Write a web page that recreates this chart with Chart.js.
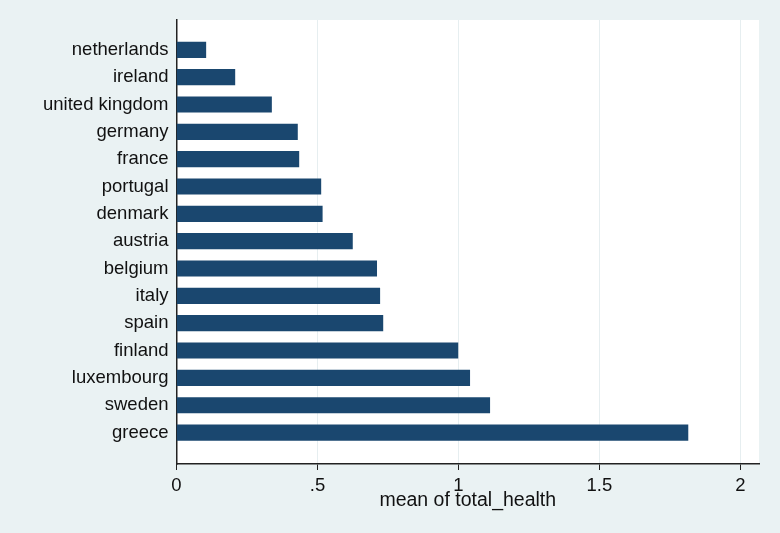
<!DOCTYPE html>
<html>
<head>
<meta charset="utf-8">
<script src="https://cdn.jsdelivr.net/npm/chart.js@4.4.1/dist/chart.umd.min.js"></script>
<style>
  html, body { margin: 0; padding: 0; background: #eaf2f3; }
  #wrap { width: 780px; height: 533px; }
</style>
</head>
<body>
<div id="wrap"><canvas id="c" width="780" height="533"></canvas></div>
<script>
const countries = ["netherlands", "ireland", "united kingdom", "germany", "france", "portugal", "denmark", "austria", "belgium", "italy", "spain", "finland", "luxembourg", "sweden", "greece"];
const meanTotalHealth = [0.104, 0.207, 0.337, 0.429, 0.434, 0.512, 0.517, 0.624, 0.710, 0.721, 0.732, 0.998, 1.040, 1.111, 1.814];
const xTickValues = [0, 0.5, 1, 1.5, 2];
const xTickLabels = ["0", ".5", "1", "1.5", "2"];
const xAxisTitle = "mean of total_health";

const FONT = "'Liberation Sans', Arial, sans-serif";

const bgPlugin = {
  id: 'bg',
  beforeDraw(chart) {
    const {ctx, chartArea: a} = chart;
    ctx.save();
    ctx.fillStyle = '#eaf2f3';
    ctx.fillRect(0, 0, chart.width, chart.height);
    ctx.fillStyle = '#ffffff';
    ctx.fillRect(a.left, a.top, a.right - a.left, a.bottom - a.top);
    ctx.restore();
  }
};

new Chart(document.getElementById('c'), {
  type: 'bar',
  data: {
    datasets: [{
      data: meanTotalHealth.map((v, i) => ({x: v, y: i})),
      backgroundColor: '#1a476f',
      borderWidth: 0,
      barThickness: 15.5
    }]
  },
  options: {
    indexAxis: 'y',
    responsive: false,
    animation: false,
    layout: { padding: { top: 20, right: 21, bottom: 0, left: 0 } },
    plugins: { legend: { display: false }, tooltip: { enabled: false } },
    scales: {
      y: {
        type: 'linear',
        offset: false,
        reverse: true,
        min: -1.09,
        max: 15.15,
        afterBuildTicks(scale) {
          scale.ticks = countries.map((c, i) => ({value: i}));
        },
        afterFit(scale) { scale.width = 176.5; },
        grid: { display: false, drawTicks: false },
        border: { display: true, color: '#222', width: 1.5 },
        ticks: {
          padding: 8,
          color: '#111',
          font: { family: FONT, size: 18.5 },
          callback: (v) => countries[v]
        }
      },
      x: {
        type: 'linear',
        offset: false,
        min: 0,
        max: 2.066,
        afterBuildTicks(scale) {
          scale.ticks = xTickValues.map(v => ({value: v}));
        },
        afterFit(scale) { scale.height = 69; },
        grid: { color: '#e6eef0', lineWidth: 1, tickColor: '#222', tickLength: 6, drawTicks: true },
        border: { display: true, color: '#222', width: 1.5 },
        ticks: {
          padding: 5,
          color: '#111',
          maxRotation: 0,
          font: { family: FONT, size: 18.5 },
          callback: (v) => { const k = xTickValues.indexOf(v); return k >= 0 ? xTickLabels[k] : ''; }
        },
        title: {
          display: true,
          text: xAxisTitle,
          color: '#111',
          font: { family: FONT, size: 19.5 },
          padding: { top: 0, bottom: 21 }
        }
      }
    }
  },
  plugins: [bgPlugin]
});
</script>
</body>
</html>
